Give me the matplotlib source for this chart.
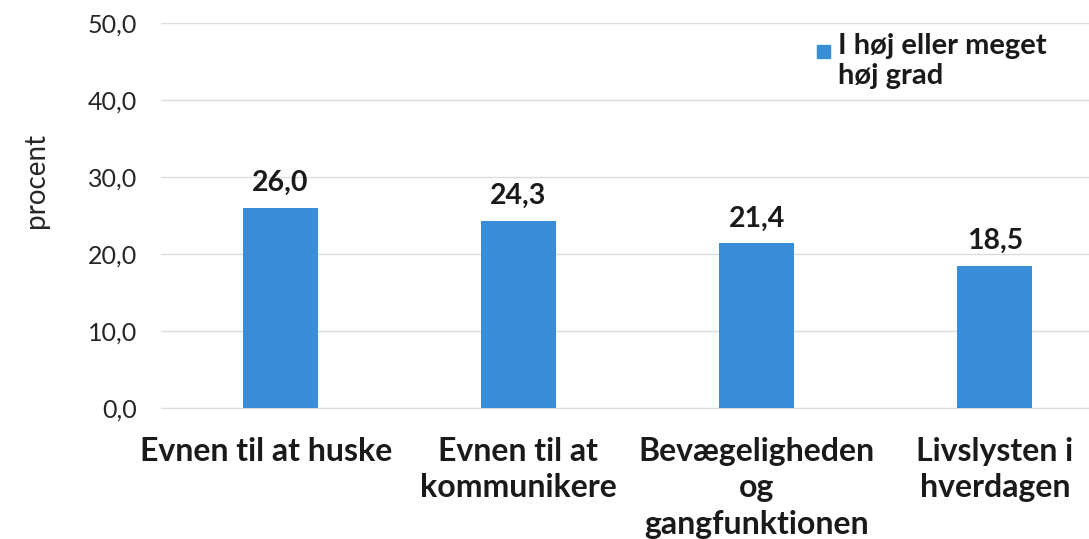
import matplotlib
matplotlib.use("Agg")
from matplotlib import pyplot as plt
from matplotlib.transforms import ScaledTranslation

# data
categories = ["Evnen til at huske", "Evnen til at\nkommunikere",
              "Bevægeligheden\nog\ngangfunktionen", "Livslysten i\nhverdagen"]
values = [26.0, 24.3, 21.4, 18.5]
yticks = [0, 10, 20, 30, 40, 50]
series_name = "I høj eller meget\nhøj grad"

bar_color = "#3a8ed8"
plt.rcParams["font.family"] = ["Lato", "DejaVu Sans"]

fig = plt.figure(figsize=(10.89, 5.39), dpi=100)
# axes deliberately runs past the right edge (the source image is cropped)
ax = fig.add_axes([161 / 1089, 1 - 408 / 539, 953 / 1089, 385 / 539])

x = range(len(categories))
ax.bar(x, values, width=0.315, color=bar_color, zorder=3)

for xi, v in zip(x, values):
    ax.text(xi, v + 1.5, f"{v:.1f}".replace(".", ","), ha="center", va="bottom",
            fontsize=20.5, fontweight="bold", color="#1a1a1a")

ax.set_xlim(-0.5, 3.5)
ax.set_ylim(0, 50)
ax.set_yticks(yticks)
ax.set_yticklabels([f"{t:.1f}".replace(".", ",") for t in yticks],
                   fontsize=18, color="#262626")
ax.set_xticks(list(x))
ax.set_xticklabels(categories, fontsize=23, fontweight="bold", color="#1a1a1a",
                   linespacing=1.3, va="top")
ax.tick_params(axis="both", length=0)
ax.tick_params(axis="y", pad=17)
ax.tick_params(axis="x", pad=21)
# first label sits a bit left of its bar in the source
lab0 = ax.get_xticklabels()[0]
lab0.set_transform(lab0.get_transform() + ScaledTranslation(-14 / 100, 0, fig.dpi_scale_trans))

ax.grid(axis="y", color="#dcdcdc", linewidth=1, zorder=0)
for s in ["top", "right", "left"]:
    ax.spines[s].set_visible(False)
ax.spines["bottom"].set_color("#dcdcdc")

fig.text(36 / 1089, 1 - 180 / 539, "procent", rotation=90, ha="center",
         va="center", fontsize=20, color="#262626")

# legend drawn by hand like the source
fig.patches.append(plt.Rectangle((817 / 1089, 1 - 58 / 539), 13 / 1089, 13 / 539,
                                 transform=fig.transFigure, color=bar_color))
fig.text(838 / 1089, 1 - 33 / 539, series_name, ha="left", va="top",
         fontsize=21, fontweight="bold", color="#1a1a1a", linespacing=1.2)

fig.savefig("out.png", dpi=100)
